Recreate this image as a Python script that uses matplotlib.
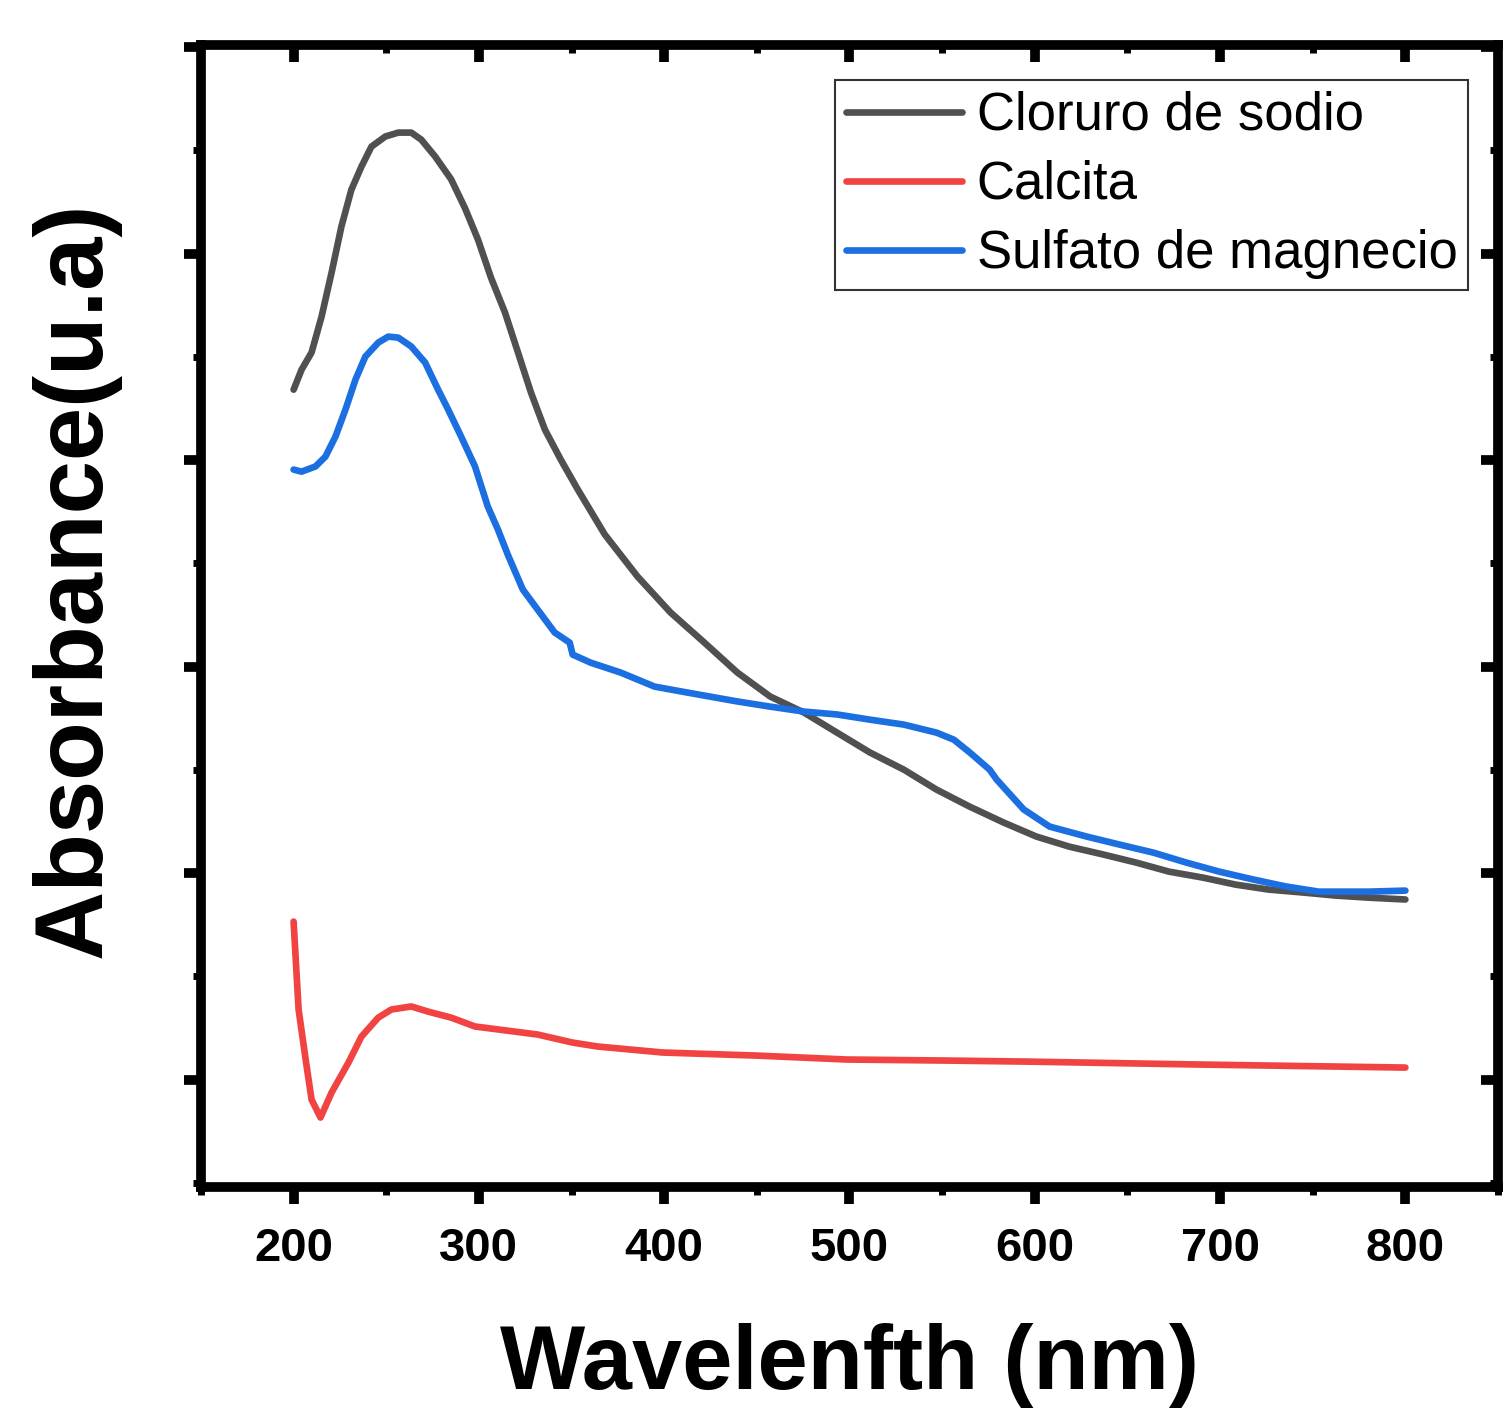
"""UV-Vis absorbance spectra of three salts (Origin-style figure)."""
import matplotlib
matplotlib.use("Agg")
import matplotlib.pyplot as plt
from matplotlib.ticker import MultipleLocator, NullFormatter

plt.rcParams["font.family"] = ["Liberation Sans", "DejaVu Sans"]

# --- data (absorbance in arbitrary units) ---
wl_nacl = [200.0, 204.3, 209.7, 215.1, 220.5, 225.8, 231.2, 236.6, 242.0, 249.5,
           256.5, 263.5, 268.9, 276.4, 285.0, 292.5, 299.5, 306.5, 314.1, 321.1,
           328.1, 335.6, 344.2, 353.4, 367.9, 385.6, 403.4, 421.7, 439.5, 457.2,
           475.5, 493.3, 511.0, 529.3, 547.0, 564.8, 583.1, 600.8, 618.6, 636.9,
           654.6, 672.4, 690.7, 708.4, 726.2, 744.5, 762.3, 780.0, 800.0]
abs_nacl = [3.341, 3.438, 3.521, 3.695, 3.908, 4.131, 4.310, 4.421, 4.518, 4.567,
            4.586, 4.586, 4.552, 4.470, 4.360, 4.220, 4.068, 3.884, 3.714, 3.521,
            3.327, 3.148, 3.002, 2.857, 2.640, 2.436, 2.262, 2.116, 1.971, 1.855,
            1.777, 1.680, 1.584, 1.501, 1.404, 1.322, 1.245, 1.177, 1.128, 1.090,
            1.051, 1.007, 0.978, 0.944, 0.920, 0.906, 0.891, 0.881, 0.872]

wl_calcita = [200.0, 202.7, 206.5, 209.7, 214.5, 220.5, 229.6, 236.6, 245.7, 252.7,
              263.5, 272.6, 285.0, 297.9, 331.7, 350.6, 364.1, 399.1, 450.2, 498.6,
              552.4, 595.4, 687.1, 800.0]
abs_calcita = [0.765, 0.339, 0.097, -0.097, -0.184, -0.063, 0.082, 0.208, 0.300, 0.339,
               0.354, 0.329, 0.300, 0.257, 0.218, 0.179, 0.160, 0.131, 0.116, 0.097,
               0.092, 0.087, 0.073, 0.058]

wl_mgso4 = [200.0, 204.3, 211.8, 217.2, 222.6, 228.0, 233.4, 238.7, 245.7, 251.1,
            256.5, 263.5, 271.0, 278.0, 283.4, 290.4, 297.9, 304.8, 310.3, 315.6,
            323.7, 331.7, 340.9, 349.0, 350.6, 360.3, 376.5, 394.8, 412.6, 439.5,
            457.2, 475.5, 493.3, 511.0, 529.3, 547.0, 556.3, 564.9, 575.6, 579.4,
            594.0, 608.0, 627.9, 645.7, 664.0, 681.7, 699.5, 717.8, 735.5, 753.3,
            780.2, 800.0]
abs_mgso4 = [2.954, 2.944, 2.969, 3.017, 3.114, 3.245, 3.390, 3.501, 3.569, 3.598,
             3.593, 3.550, 3.472, 3.341, 3.245, 3.114, 2.969, 2.775, 2.663, 2.542,
             2.373, 2.276, 2.165, 2.116, 2.058, 2.019, 1.971, 1.903, 1.874, 1.831,
             1.806, 1.782, 1.768, 1.743, 1.719, 1.680, 1.646, 1.584, 1.501, 1.453,
             1.308, 1.225, 1.177, 1.138, 1.099, 1.051, 1.007, 0.969, 0.935, 0.910,
             0.910, 0.915]

labels = ["Cloruro de sodio", "Calcita", "Sulfato de magnecio"]
colors = ["#505050", "#F24343", "#1C6FE0"]

fig = plt.figure(figsize=(15.03, 14.12), dpi=100)
ax = fig.add_axes([0.1337, 0.1594, 0.863, 0.8087])

for wl, ab, lab, c in zip([wl_nacl, wl_calcita, wl_mgso4],
                          [abs_nacl, abs_calcita, abs_mgso4], labels, colors):
    ax.plot(wl, ab, color=c, lw=4.8, label=lab,
            solid_joinstyle="round", solid_capstyle="round")

ax.set_xlim(150, 850)
ax.set_ylim(-0.52, 5.01)
ax.xaxis.set_major_locator(MultipleLocator(100))
ax.xaxis.set_minor_locator(MultipleLocator(50))
ax.yaxis.set_major_locator(MultipleLocator(1))
ax.yaxis.set_minor_locator(MultipleLocator(0.5))
ax.yaxis.set_major_formatter(NullFormatter())

for s in ax.spines.values():
    s.set_linewidth(7)
ax.tick_params(which="major", direction="out", length=12, width=7)
ax.tick_params(which="minor", direction="out", length=6, width=5)
ax.tick_params(axis="x", labelsize=34, pad=17)
for t in ax.get_xticklabels():
    t.set_fontweight("bold")

# mirrored ticks pointing inward on top and right
top = ax.secondary_xaxis("top")
top.xaxis.set_major_locator(MultipleLocator(100))
top.xaxis.set_minor_locator(MultipleLocator(50))
top.xaxis.set_major_formatter(NullFormatter())
top.tick_params(which="major", direction="in", length=12, width=7)
top.tick_params(which="minor", direction="in", length=6, width=5)
top.spines["top"].set_linewidth(0)

right = ax.secondary_yaxis("right")
right.yaxis.set_major_locator(MultipleLocator(1))
right.yaxis.set_minor_locator(MultipleLocator(0.5))
right.yaxis.set_major_formatter(NullFormatter())
right.tick_params(which="major", direction="in", length=12, width=7)
right.tick_params(which="minor", direction="in", length=6, width=5)
right.spines["right"].set_linewidth(0)

ax.set_xlabel("Wavelenfth (nm)", fontsize=65, fontweight="bold", labelpad=37)
ax.set_ylabel("Absorbance(u.a)", fontsize=69, fontweight="bold")
ax.yaxis.set_label_coords(-0.062, 0.532)

leg = ax.legend(loc="upper right", bbox_to_anchor=(0.977, 0.969), fontsize=38,
                frameon=True, fancybox=False, handlelength=2.2, handletextpad=0.28,
                labelspacing=0.36, borderpad=0.2, borderaxespad=0)
leg.get_frame().set_edgecolor("black")
leg.get_frame().set_linewidth(1.5)

fig.savefig("out.png", dpi=100)
